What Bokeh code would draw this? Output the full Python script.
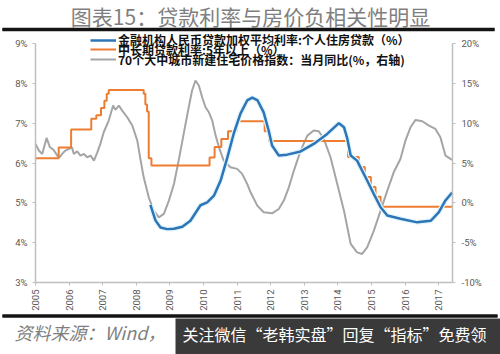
import math
from bokeh.plotting import figure
from bokeh.models import (Range1d, LinearAxis, FixedTicker, PrintfTickFormatter,
                          Legend, LegendItem)
from bokeh.core.properties import value
from bokeh.embed import file_html
from bokeh.resources import INLINE

# ---------------- data ----------------
title_text = "图表15：贷款利率与房价负相关性明显"
source_text = "资料来源：Wind，"
banner_text = "关注微信“老韩实盘”回复“指标”免费领"

series_names = [
    "金融机构人民币贷款加权平均利率:个人住房贷款（%）",
    "中长期贷款利率:5年以上（%）",
    "70个大中城市新建住宅价格指数：当月同比(%，右轴)",
]

year_ticks = list(range(2005, 2018))
left_ticks = [3, 4, 5, 6, 7, 8, 9]
right_ticks = [-10, -5, 0, 5, 10, 15, 20]

# personal housing loan weighted average rate (%), left axis
blue_x = [2008.42, 2008.57, 2008.72, 2008.92, 2009.12, 2009.37, 2009.61, 2009.91,
          2010.11, 2010.31, 2010.51, 2010.71, 2010.90, 2011.10, 2011.30, 2011.45,
          2011.61, 2011.79, 2011.94, 2012.04, 2012.24, 2012.49, 2012.89, 2013.28,
          2013.68, 2014.03, 2014.18, 2014.28, 2014.38, 2014.57, 2014.87, 2015.07,
          2015.27, 2015.47, 2015.86, 2016.36, 2016.76, 2017.00, 2017.20, 2017.40]
blue_y = [4.95, 4.56, 4.38, 4.34, 4.35, 4.40, 4.55, 4.94,
          5.01, 5.18, 5.56, 6.14, 6.74, 7.24, 7.57, 7.64,
          7.57, 7.27, 6.81, 6.44, 6.19, 6.21, 6.29, 6.48,
          6.73, 7.00, 6.90, 6.61, 6.19, 6.06, 5.56, 5.22,
          4.89, 4.68, 4.60, 4.51, 4.55, 4.76, 5.06, 5.26]

# 5y+ medium/long-term loan rate (%), left axis, step changes
orange_x = [2005.00, 2005.69, 2006.06, 2006.66, 2006.81, 2006.95, 2007.05, 2007.12,
            2007.18, 2008.22, 2008.27, 2008.32, 2008.37, 2008.45, 2010.18, 2010.33,
            2010.53, 2010.73, 2010.98, 2011.82, 2011.95, 2014.30, 2014.62, 2014.80,
            2014.98, 2015.12, 2015.27, 2017.41]
orange_y = [6.12, 6.39, 6.84, 7.11, 7.20, 7.38, 7.56, 7.74,
            7.83, 7.74, 7.47, 7.29, 6.12, 5.94, 6.14, 6.40,
            6.60, 6.80, 7.05, 6.80, 6.55, 6.15, 5.90, 5.65,
            5.40, 5.15, 4.90, 4.90]

# 70-city new home price index YoY (%), right axis
gray_x = [2005.00, 2005.10, 2005.20, 2005.33, 2005.43, 2005.54, 2005.65, 2005.72,
          2005.80, 2005.89, 2005.99, 2006.09, 2006.14, 2006.24, 2006.34, 2006.44,
          2006.54, 2006.64, 2006.74, 2006.84, 2006.93, 2007.03, 2007.18, 2007.31,
          2007.38, 2007.48, 2007.58, 2007.73, 2007.88, 2008.03, 2008.13, 2008.22,
          2008.37, 2008.52, 2008.67, 2008.82, 2008.97, 2009.12, 2009.26, 2009.41,
          2009.56, 2009.66, 2009.76, 2009.86, 2009.96, 2010.06, 2010.16, 2010.26,
          2010.36, 2010.46, 2010.60, 2010.80, 2011.00, 2011.15, 2011.30, 2011.40,
          2011.60, 2011.79, 2012.04, 2012.24, 2012.39, 2012.54, 2012.69, 2012.89,
          2013.09, 2013.28, 2013.43, 2013.58, 2013.78, 2013.98, 2014.18, 2014.38,
          2014.57, 2014.72, 2014.87, 2015.07, 2015.27, 2015.47, 2015.66, 2015.86,
          2016.01, 2016.16, 2016.31, 2016.51, 2016.71, 2016.90, 2017.05, 2017.20,
          2017.40]
gray_y = [7.40, 6.56, 6.14, 8.15, 6.97, 6.64, 5.93, 5.72,
          6.18, 6.56, 6.77, 6.93, 6.14, 6.47, 5.93, 6.14,
          5.72, 5.93, 5.30, 6.34, 7.40, 8.86, 10.33, 12.21,
          11.67, 12.21, 11.58, 10.74, 9.70, 7.81, 5.30, 3.20,
          0.69, -0.98, -1.82, -1.39, 0.28, 2.37, 5.30, 8.66,
          12.00, 14.10, 15.35, 14.72, 13.25, 12.00, 11.37, 10.33,
          8.44, 6.97, 5.30, 4.46, 4.26, 3.63, 2.37, 1.32,
          -0.35, -1.19, -1.32, -0.77, 0.28, 1.95, 4.05, 6.56,
          8.44, 9.07, 8.98, 8.03, 5.72, 2.37, -0.98, -5.16,
          -6.22, -6.42, -5.59, -3.49, -0.98, 1.53, 3.83, 5.51,
          7.81, 9.48, 10.41, 10.24, 9.70, 9.28, 8.23, 5.93,
          5.39]

# ---------------- layout (page pixels) ----------------
W, H = 500, 354
AX_L, AX_R, AX_T, AX_B = 35, 452, 43, 282       # plot-area edges on the page
XMIN, XMAX = 2005.0, 2017.41
LMIN, LMAX = 3.0, 9.0
RMIN, RMAX = -10.0, 20.0

XS = (XMAX - XMIN) / (AX_R - AX_L)
LS = (LMAX - LMIN) / (AX_B - AX_T)
RS = (RMAX - RMIN) / (AX_B - AX_T)


def px2x(px):
    return XMIN + (px - AX_L) * XS


def px2y(py):
    return LMAX - (py - AX_T) * LS


BLUE = "#2E75B6"
ORANGE = "#ED7D31"
GRAY = "#A5A5A5"
TICK_COLOR = "#595959"
AXIS_COLOR = "#BFBFBF"
RULE_COLOR = "#141414"
CJK = "Noto Sans CJK SC"

# frame covers the whole canvas; axes are pinned with fixed_location
p = figure(width=W, height=H, output_backend="svg", toolbar_location=None,
           x_range=Range1d(px2x(0), px2x(W)),
           y_range=Range1d(px2y(H), px2y(0)),
           x_axis_location=None, y_axis_location=None,
           min_border=0, min_border_left=0, min_border_right=0,
           min_border_top=0, min_border_bottom=0,
           background_fill_color="white", border_fill_color="white",
           outline_line_color=None)
p.extra_y_ranges = {"right": Range1d(RMAX - (H - AX_T) * RS, RMAX + AX_T * RS)}
p.xgrid.visible = False
p.ygrid.visible = False

r_gray = p.line(gray_x, gray_y, y_range_name="right", line_color=GRAY, line_width=2)
r_orange = p.step(orange_x, orange_y, mode="after", line_color=ORANGE, line_width=2)
p.line(blue_x, blue_y, line_color="#E2F5FC", line_width=5)  # soft halo
r_blue = p.line(blue_x, blue_y, line_color=BLUE, line_width=2.5)


def style_axis(ax):
    ax.axis_line_color = AXIS_COLOR
    ax.axis_line_width = 1.5
    ax.major_tick_line_color = AXIS_COLOR
    ax.major_tick_out = 3
    ax.major_tick_in = 0
    ax.minor_tick_line_color = None
    ax.major_label_text_color = TICK_COLOR
    ax.major_label_text_font = "Roboto"
    ax.major_label_text_font_size = "9.5px"


xa = LinearAxis(ticker=FixedTicker(ticks=year_ticks), fixed_location=LMIN,
                bounds=(XMIN, XMAX))
xa.major_label_orientation = math.pi / 2
xa.major_label_standoff = 4
style_axis(xa)
p.add_layout(xa, "below")

ya = LinearAxis(ticker=FixedTicker(ticks=left_ticks),
                formatter=PrintfTickFormatter(format="%d%%"),
                fixed_location=XMIN, bounds=(LMIN, LMAX))
ya.major_label_standoff = 5
style_axis(ya)
p.add_layout(ya, "left")

ra = LinearAxis(y_range_name="right", ticker=FixedTicker(ticks=right_ticks),
                formatter=PrintfTickFormatter(format="%d%%"),
                fixed_location=XMAX, bounds=(RMIN, RMAX))
ra.major_label_standoff = 6
style_axis(ra)
p.add_layout(ra, "right")

# legend: one single-row legend per series, rows ~10 px apart
row_centres = [43.0, 52.7, 62.5]       # page y
ROW_H = 10
for name, rend, cy in zip(series_names, [r_blue, r_orange, r_gray], row_centres):
    lg = Legend(items=[LegendItem(label=name, renderers=[rend])],
                location=(90, H - (cy + ROW_H / 2)),
                orientation="vertical",
                background_fill_alpha=0, border_line_alpha=0,
                padding=0, margin=0, spacing=0,
                glyph_width=26, glyph_height=10, label_height=ROW_H,
                label_standoff=2, label_text_font=CJK,
                label_text_font_style="bold", label_text_font_size="12px",
                label_text_color="#111111")
    p.add_layout(lg, "center")

# ---- title and rules ----
p.text(x=[px2x(250)], y=[px2y(15)], text=[title_text], text_align="center",
       text_baseline="middle", text_font=value(CJK), text_font_size="21px",
       text_color="#7F7F7F")
p.quad(left=[px2x(2)], right=[px2x(494)], top=[px2y(27.3)], bottom=[px2y(30.7)],
       fill_color=RULE_COLOR, line_color=None)
p.quad(left=[px2x(2)], right=[px2x(497)], top=[px2y(314)], bottom=[px2y(317)],
       fill_color=RULE_COLOR, line_color=None)
p.segment(x0=[px2x(2), px2x(2)], y0=[px2y(29), px2y(315.5)],
          x1=[px2x(494), px2x(497)], y1=[px2y(29), px2y(315.5)],
          line_color=RULE_COLOR, line_width=3.2)

# ---- footer ----
p.text(x=[px2x(14)], y=[px2y(331)], text=[source_text], text_align="left",
       text_baseline="middle", text_font=value(CJK), text_font_style="italic",
       text_font_size="18px", text_color="#7F7F7F")
p.quad(left=[px2x(175)], right=[px2x(W)], top=[px2y(318)], bottom=[px2y(H)],
       fill_color="#3A3A3A", line_color=None)
p.text(x=[px2x(182)], y=[px2y(333)], text=[banner_text], text_align="left",
       text_baseline="middle", text_font=value(CJK), text_font_size="16px",
       text_color="white")

open("out.html", "w").write(file_html(p, INLINE))
